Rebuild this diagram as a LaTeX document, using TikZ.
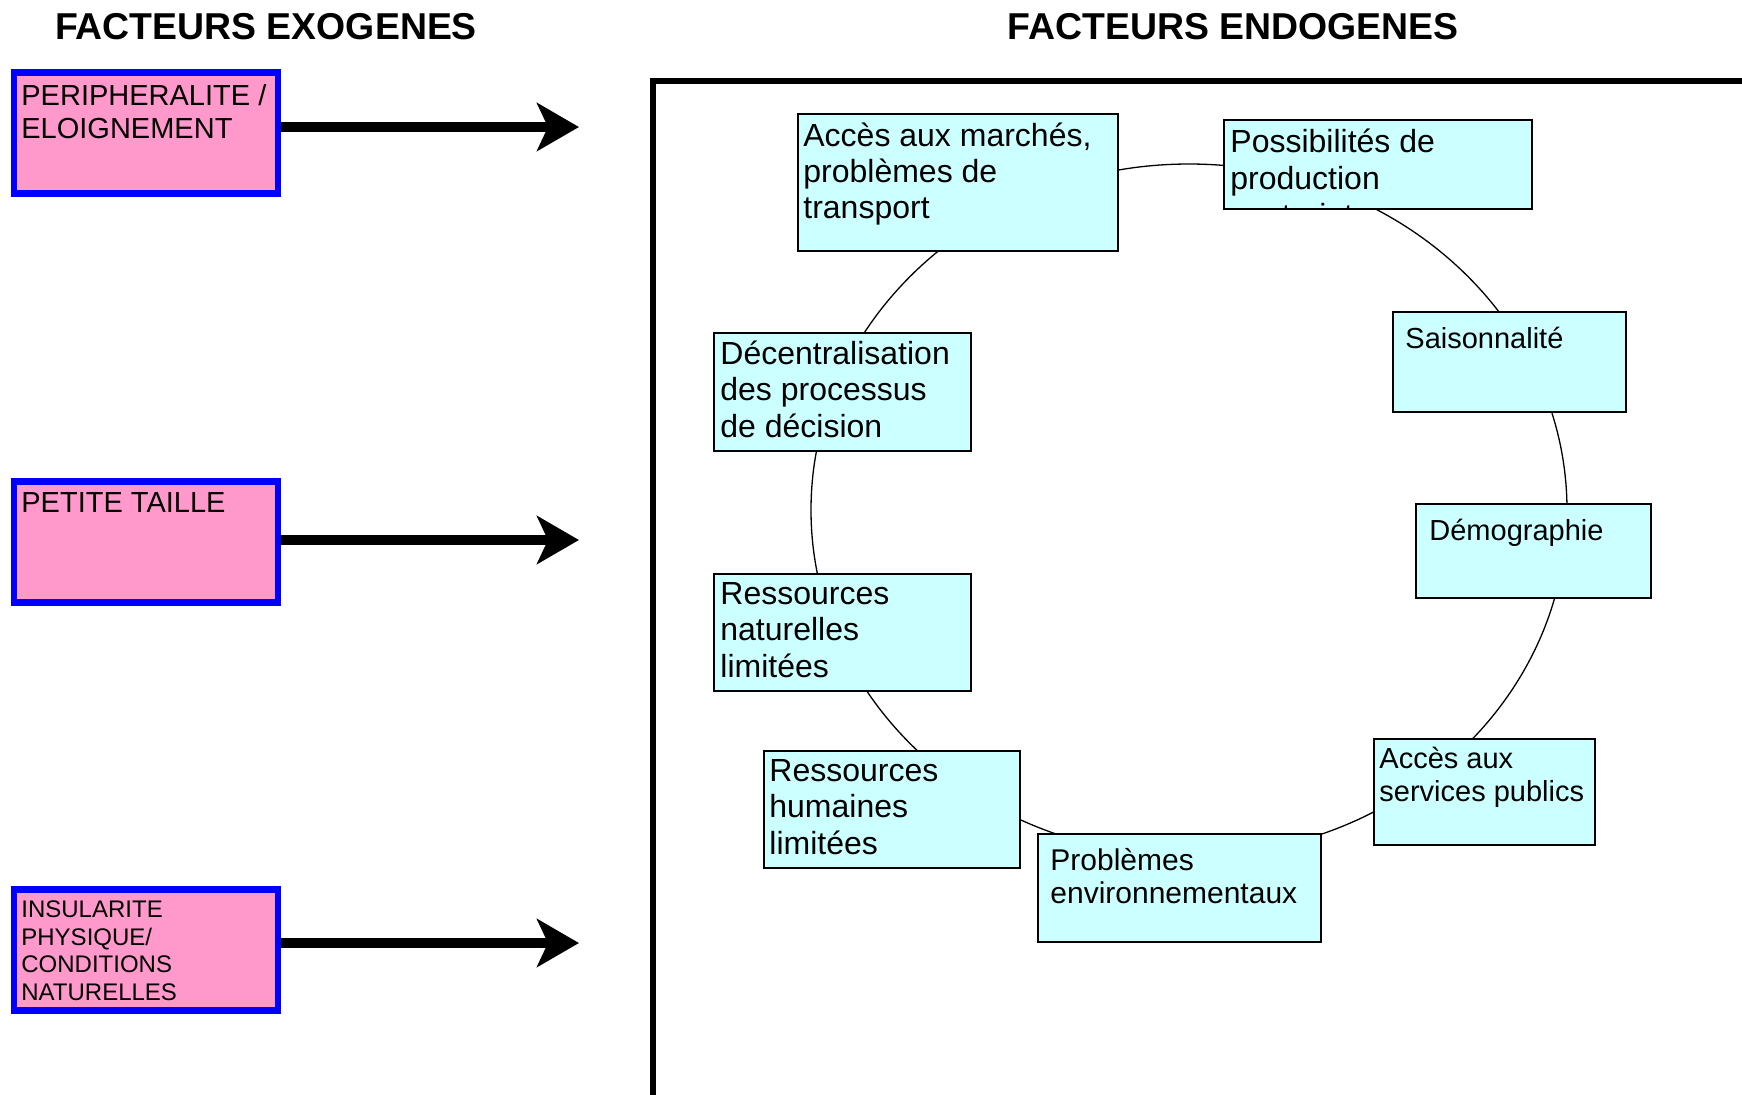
\documentclass[tikz,border=0pt]{standalone}
\usepackage{fontspec}
\setmainfont{Liberation Sans}
\usetikzlibrary{arrows.meta}
\definecolor{pinkfill}{HTML}{FF99CC}
\definecolor{cyanfill}{HTML}{CCFFFF}
\definecolor{bluebord}{HTML}{0000FF}
\newcommand\mystrut{\rule{0pt}{1em}}
\tikzset{
  exo/.style={draw=bluebord, fill=pinkfill, line width=3.2pt, minimum width=132pt, minimum height=60.5pt, inner sep=0pt},
  endo/.style={draw=black, fill=cyanfill, line width=0.75pt, inner sep=0pt, anchor=north west},
  lbl/.style={anchor=north west, inner sep=0pt, align=left},
  ttl/.style={font=\bfseries\fontsize{18.7}{21}\selectfont, inner sep=0pt},
  bigarrow/.style={line width=5pt, -{Stealth[length=21pt, width=24pt, inset=5.5pt]}},
  ring/.style={line width=0.65pt},
  frame/.style={line width=3pt}
}
\begin{document}
\begin{tikzpicture}[x=0.5pt, y=-0.5pt]
\useasboundingbox (0,0) rectangle (1742,1094);
% titles
\node[ttl] (t1) at (266,27) {FACTEURS EXOGENES};
\node[ttl] (t2) at (1233,27) {FACTEURS ENDOGENES};
% frame
\draw[frame] (1750,81) -- (653,81) -- (653,1100);
% exogenous boxes
\node[exo] (p1) at (146,133) {};
\node[exo] (p2) at (146,542) {};
\node[exo] (p3) at (146,950) {};
\node[lbl, font=\fontsize{14.5}{16.5}\selectfont] (p1t) at (21,76) {\mystrut PERIPHERALITE /\\ELOIGNEMENT};
\node[lbl, font=\fontsize{14.5}{16.5}\selectfont] (p2t) at (21,483) {\mystrut PETITE TAILLE};
\node[lbl, font=\fontsize{12}{13.85}\selectfont] (p3t) at (21,893) {\mystrut INSULARITE\\PHYSIQUE/\\CONDITIONS\\NATURELLES};
% arrows
\coordinate (a1) at (579,127);
\coordinate (a2) at (579,540);
\coordinate (a3) at (579,943);
\draw[bigarrow] (p1.east |- a1) -- (a1);
\draw[bigarrow] (p2.east |- a2) -- (a2);
\draw[bigarrow] (p3.east |- a3) -- (a3);
% ring
\draw[ring] (1189,510) ellipse [x radius=189pt, y radius=173pt];
% endogenous boxes
\node[endo, minimum width=160pt, minimum height=68.5pt] (c1) at (797,113) {};
\node[endo, minimum width=154pt, minimum height=44.5pt] (c2) at (1223,119) {};
\node[endo, minimum width=116.5pt, minimum height=50pt] (c3) at (1392,311) {};
\node[endo, minimum width=117.5pt, minimum height=47pt] (c4) at (1415,503) {};
\node[endo, minimum width=110.5pt, minimum height=53pt] (c5) at (1373,738) {};
\node[endo, minimum width=141.5pt, minimum height=54pt] (c6) at (1037,833) {};
\node[endo, minimum width=128pt, minimum height=58.5pt] (c7) at (763,750) {};
\node[endo, minimum width=128.5pt, minimum height=58.5pt] (c8) at (713,573) {};
\node[endo, minimum width=128.5pt, minimum height=59pt] (c9) at (713,332) {};
% texts
\node[lbl, font=\fontsize{16}{18.1}\selectfont] (c1t) at (803,114) {\mystrut Accès aux marchés,\\problèmes de\\transport};
\begin{scope}
\clip (c2.north west) rectangle (c2.south east);
\node[lbl, font=\fontsize{16}{18.4}\selectfont] (c2t) at (1230,120) {\mystrut Possibilités de\\production\\contraintes};
\end{scope}
\node[lbl, font=\fontsize{14.5}{16.5}\selectfont] (c3t) at (1405,319) {\mystrut Saisonnalité};
\node[lbl, font=\fontsize{14.5}{16.5}\selectfont] (c4t) at (1429,511) {\mystrut Démographie};
\node[lbl, font=\fontsize{14.5}{16.5}\selectfont] (c5t) at (1379,739) {\mystrut Accès aux\\services publics};
\node[lbl, font=\fontsize{15}{16.5}\selectfont] (c6t) at (1050,840) {\mystrut Problèmes\\environnementaux};
\node[lbl, font=\fontsize{16}{18.25}\selectfont] (c7t) at (769,749) {\mystrut Ressources\\humaines\\limitées};
\node[lbl, font=\fontsize{16}{18.25}\selectfont] (c8t) at (720,572) {\mystrut Ressources\\naturelles\\limitées};
\node[lbl, font=\fontsize{16}{18.25}\selectfont] (c9t) at (720,332) {\mystrut Décentralisation\\des processus\\de décision};
\end{tikzpicture}
\end{document}
